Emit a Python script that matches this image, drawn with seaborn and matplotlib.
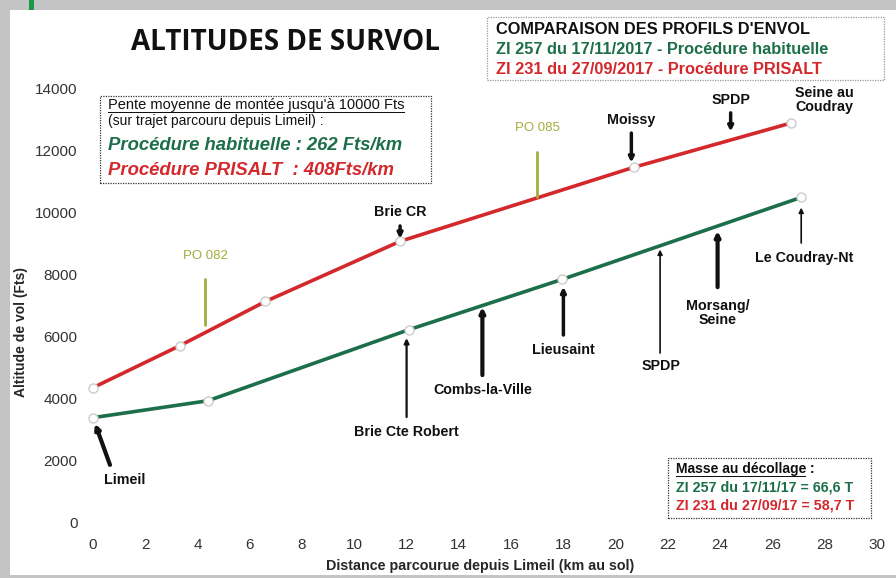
import matplotlib
matplotlib.use("Agg")
import matplotlib.pyplot as plt
from matplotlib.patches import Rectangle
import pandas as pd
import seaborn as sns

# Flight profiles (distance km, altitude ft)
dist_habituelle = [0.0, 4.4, 12.1, 17.95, 27.1]
alt_habituelle = [3390, 3935, 6225, 7840, 10480]
dist_prisalt = [0.0, 3.33, 6.6, 11.75, 20.7, 26.7]
alt_prisalt = [4355, 5710, 7130, 9065, 11450, 12870]

x_ticks = [0, 2, 4, 6, 8, 10, 12, 14, 16, 18, 20, 22, 24, 26, 28, 30]
y_ticks = [0, 2000, 4000, 6000, 8000, 10000, 12000, 14000]

GREEN = "#1d6e4a"
RED = "#d3282c"
OLIVE = "#a3ad3c"
W, H = 896, 578

df = pd.concat([
    pd.DataFrame({"Distance": dist_habituelle, "Altitude": alt_habituelle, "Profil": "habituelle"}),
    pd.DataFrame({"Distance": dist_prisalt, "Altitude": alt_prisalt, "Profil": "PRISALT"}),
])

sns.set_theme(style="white")
plt.rcParams["font.family"] = ["Liberation Sans", "DejaVu Sans"]

fig = plt.figure(figsize=(8.96, 5.78), dpi=100, facecolor="#c4c4c4")


def fx(px):
    return px / W


def fy(py):
    return 1 - py / H


def box(x0, y0, x1, y1, color, zorder=1):
    fig.patches.append(Rectangle((fx(x0), fy(y1)), (x1 - x0) / W, (y1 - y0) / H, transform=fig.transFigure,
                                 facecolor="white", edgecolor=color, linestyle=(0, (1, 1)),
                                 linewidth=0.9, zorder=zorder))


def underline(t):
    fig.canvas.draw()
    bb = t.get_window_extent()
    fig.patches.append(Rectangle((bb.x0 / W, bb.y0 / H - 1.2 / H), bb.width / W, 0.9 / H,
                                 transform=fig.transFigure, facecolor="#111111", edgecolor="none", zorder=3))


fig.patches.append(Rectangle((fx(10), 3 / H), 886 / W, 565 / H, transform=fig.transFigure,
                             facecolor="white", edgecolor="none", zorder=-5))
fig.patches.append(Rectangle((fx(29), fy(10)), 5 / W, 10 / H, transform=fig.transFigure,
                             facecolor="#169a48", edgecolor="none", zorder=-4))

ax = fig.add_axes([fx(93), 55 / H, 784 / W, 435 / H])
ax.set_facecolor("none")
ax.set_zorder(2)
sns.lineplot(data=df, x="Distance", y="Altitude", hue="Profil", palette={"habituelle": GREEN, "PRISALT": RED},
             linewidth=2.6, marker="o", markersize=6.5, markerfacecolor="white", markeredgecolor="#cccccc",
             markeredgewidth=1, legend=False, ax=ax, sort=False)
for ln in ax.lines:
    ln.set_clip_on(False)

ax.set_xlim(0, 30)
ax.set_ylim(0, 14000)
ax.set_xticks(x_ticks)
ax.set_yticks(y_ticks)
ax.set_xticklabels([str(t) for t in x_ticks], fontsize=11, color="#333333")
ax.set_yticklabels([str(t) for t in y_ticks], fontsize=11, color="#333333")
ax.tick_params(axis="x", pad=11, length=0)
ax.tick_params(axis="y", pad=11, length=0)
for s in ax.spines.values():
    s.set_visible(False)
ax.set_xlabel("Distance parcourue depuis Limeil (km au sol)", fontsize=10.3, fontweight="bold")
ax.xaxis.set_label_coords((480 - 93) / 784, -(559 - 523) / 435)
ax.set_ylabel("Altitude de vol (Fts)", fontsize=10, fontweight="bold")
ax.yaxis.set_label_coords((28 - 93) / 784, (523 - 332) / 435)

# Title
fig.text(fx(285), fy(43), "ALTITUDES DE SURVOL", fontsize=20, fontweight="bold",
         family=["Open Sans", "DejaVu Sans"], ha="center", va="center", color="#111111")

# Legend box top right
box(487, 17, 884, 80, "#999999")
fig.text(fx(496), fy(30), "COMPARAISON DES PROFILS D'ENVOL", fontsize=11.8, fontweight="bold",
         color="#111111", va="center", zorder=3)
fig.text(fx(496), fy(50), "ZI 257 du 17/11/2017 - Procédure habituelle", fontsize=11.8,
         fontweight="bold", color=GREEN, va="center", zorder=3)
fig.text(fx(496), fy(70), "ZI 231 du 27/09/2017 - Procédure PRISALT", fontsize=11.8,
         fontweight="bold", color=RED, va="center", zorder=3)

# Slope box top left
box(100, 96, 431, 183, "#333333")
t = fig.text(fx(108), fy(105), "Pente moyenne de montée jusqu'à 10000 Fts", fontsize=10.5,
             color="#111111", va="center", zorder=3)
underline(t)
fig.text(fx(108), fy(121), "(sur trajet parcouru depuis Limeil) :", fontsize=10,
         color="#111111", va="center", zorder=3)
fig.text(fx(108), fy(146), "Procédure habituelle : 262 Fts/km", fontsize=13.3,
         fontweight="bold", fontstyle="italic", color=GREEN, va="center", zorder=3)
fig.text(fx(108), fy(170), "Procédure PRISALT  : 408Fts/km", fontsize=13.3,
         fontweight="bold", fontstyle="italic", color=RED, va="center", zorder=3)

# Take-off mass box bottom right
box(668, 458, 871, 518, "#333333")
t = fig.text(fx(676), fy(469), "Masse au décollage", fontsize=10, fontweight="bold",
             color="#111111", va="center", zorder=3)
underline(t)
fig.text(fx(676) + t.get_window_extent().width / W, fy(469), " :", fontsize=10, fontweight="bold",
         color="#111111", va="center", zorder=3)
fig.text(fx(676), fy(488), "ZI 257 du 17/11/17 = 66,6 T", fontsize=10.3, fontweight="bold",
         color=GREEN, va="center", zorder=3)
fig.text(fx(676), fy(506), "ZI 231 du 27/09/17 = 58,7 T", fontsize=10.3, fontweight="bold",
         color=RED, va="center", zorder=3)

# Waypoint annotations: (label, text pos, arrow tail, arrow head, width)
label_kw = dict(fontsize=10.3, fontweight="bold", ha="center", va="center", color="#111111")
waypoints = [
    ("Brie CR", (11.75, 10010), (11.75, 9560), (11.75, 9150), 2.5),
    ("Moissy", (20.6, 12970), (20.6, 12550), (20.6, 11600), 2.5),
    ("SPDP", (24.4, 13610), (24.4, 13200), (24.4, 12600), 2.5),
    ("Le Coudray-Nt", (27.2, 8530), (27.1, 9010), (27.1, 10150), 1.2),
    ("Morsang/\nSeine", (23.9, 6760), (23.9, 7590), (23.9, 9400), 3.0),
    ("SPDP", (21.75, 5050), (21.7, 5470), (21.7, 8800), 1.2),
    ("Lieusaint", (18.0, 5570), (18.0, 6050), (18.0, 7600), 2.5),
    ("Combs-la-Ville", (14.9, 4280), (14.9, 4760), (14.9, 6950), 3.0),
    ("Brie Cte Robert", (12.0, 2930), (12.0, 3410), (12.0, 5950), 1.6),
    ("Limeil", (1.2, 1380), (0.65, 1870), (0.08, 3200), 3.0),
]
for label, txt, tail, head, lw in waypoints:
    ax.text(txt[0], txt[1], label, linespacing=1.05, **label_kw)
    ax.annotate("", xy=head, xytext=tail,
                arrowprops=dict(arrowstyle="-|>", color="#111111", lw=lw, mutation_scale=7,
                                shrinkA=0, shrinkB=0))
ax.text(28.0, 13610, "Seine au\nCoudray", linespacing=1.05, **label_kw)

# PO markers (olive)
for label, x, ytxt, y0, y1 in [("PO 082", 4.29, 8600, 6370, 7850), ("PO 085", 17.0, 12710, 10490, 11940)]:
    ax.text(x, ytxt, label, fontsize=9.5, color=OLIVE, ha="center", va="center")
    ax.plot([x, x], [y0, y1], color=OLIVE, lw=2)

fig.savefig("out.png", dpi=100, facecolor=fig.get_facecolor())
